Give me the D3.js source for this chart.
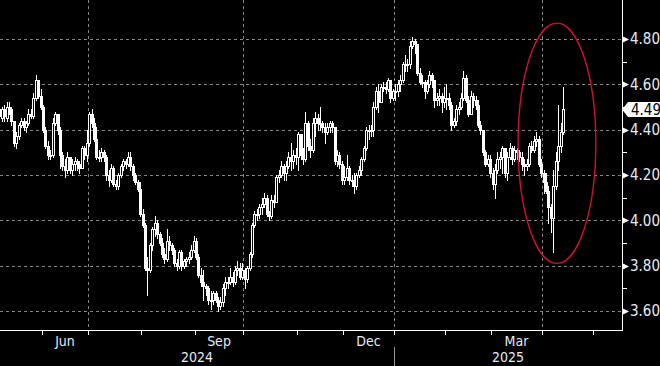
<!DOCTYPE html>
<html>
<head>
<meta charset="utf-8">
<script src="https://cdn.jsdelivr.net/npm/d3@7/dist/d3.min.js"></script>
<style>
  html, body { margin: 0; padding: 0; background: #000; }
  svg { display: block; }
  text { font-family: "Liberation Sans Narrow", "DejaVu Sans Condensed", "Arial Narrow", sans-serif; }
</style>
</head>
<body>
<svg width="660" height="366"></svg>
<script>
// US 10y yield, daily candles [open, high, low, close]
const may24 = [
  [4.49, 4.50, 4.44, 4.46], [4.45, 4.50, 4.44, 4.49], [4.49, 4.51, 4.44, 4.46], [4.45, 4.52, 4.44, 4.50],
  [4.50, 4.52, 4.47, 4.49], [4.49, 4.50, 4.42, 4.44], [4.44, 4.44, 4.33, 4.34], [4.34, 4.39, 4.32, 4.37],
  [4.37, 4.43, 4.36, 4.42], [4.42, 4.45, 4.41, 4.44], [4.44, 4.45, 4.40, 4.41], [4.41, 4.44, 4.39, 4.43],
  [4.43, 4.49, 4.42, 4.47], [4.47, 4.49, 4.45, 4.46], [4.46, 4.56, 4.45, 4.54], [4.54, 4.64, 4.53, 4.62],
  [4.62, 4.62, 4.54, 4.55], [4.55, 4.58, 4.49, 4.50]
];
const jun24 = [
  [4.50, 4.51, 4.39, 4.40], [4.40, 4.41, 4.32, 4.33], [4.33, 4.35, 4.27, 4.29], [4.29, 4.31, 4.27, 4.29],
  [4.29, 4.45, 4.28, 4.43], [4.43, 4.48, 4.42, 4.47], [4.47, 4.47, 4.38, 4.40], [4.40, 4.41, 4.23, 4.29],
  [4.29, 4.30, 4.22, 4.24], [4.24, 4.27, 4.19, 4.22], [4.22, 4.30, 4.21, 4.28], [4.28, 4.28, 4.21, 4.22],
  [4.22, 4.27, 4.20, 4.25], [4.25, 4.28, 4.22, 4.26], [4.26, 4.27, 4.22, 4.25], [4.25, 4.26, 4.21, 4.23],
  [4.23, 4.33, 4.23, 4.32], [4.32, 4.33, 4.27, 4.29], [4.29, 4.40, 4.26, 4.34]
];
const jul24 = [
  [4.34, 4.48, 4.33, 4.47], [4.47, 4.49, 4.41, 4.43], [4.43, 4.45, 4.35, 4.36], [4.36, 4.41, 4.27, 4.28],
  [4.28, 4.31, 4.26, 4.28], [4.28, 4.32, 4.26, 4.30], [4.30, 4.31, 4.26, 4.28], [4.28, 4.29, 4.18, 4.20],
  [4.20, 4.22, 4.15, 4.18], [4.18, 4.25, 4.17, 4.23], [4.23, 4.24, 4.15, 4.16], [4.16, 4.18, 4.14, 4.15],
  [4.15, 4.21, 4.14, 4.20], [4.20, 4.25, 4.19, 4.24], [4.24, 4.27, 4.22, 4.26], [4.26, 4.27, 4.23, 4.25],
  [4.25, 4.30, 4.24, 4.28], [4.28, 4.30, 4.22, 4.24], [4.24, 4.25, 4.18, 4.20], [4.20, 4.21, 4.16, 4.17],
  [4.17, 4.18, 4.13, 4.14], [4.14, 4.17, 4.02, 4.03]
];
const aug24 = [
  [4.03, 4.05, 3.97, 3.98], [3.98, 3.99, 3.78, 3.79], [3.79, 3.84, 3.67, 3.78], [3.78, 3.90, 3.77, 3.89],
  [3.89, 3.97, 3.87, 3.96], [3.96, 4.02, 3.93, 3.99], [3.99, 4.00, 3.92, 3.94], [3.94, 3.95, 3.89, 3.90],
  [3.90, 3.92, 3.84, 3.85], [3.85, 3.88, 3.81, 3.83], [3.83, 3.96, 3.82, 3.91], [3.91, 3.93, 3.87, 3.89],
  [3.89, 3.90, 3.85, 3.87], [3.87, 3.88, 3.80, 3.81], [3.81, 3.83, 3.78, 3.80], [3.80, 3.87, 3.79, 3.86],
  [3.86, 3.87, 3.78, 3.80], [3.80, 3.83, 3.79, 3.82], [3.82, 3.84, 3.80, 3.83], [3.83, 3.86, 3.81, 3.84],
  [3.84, 3.89, 3.83, 3.87], [3.87, 3.93, 3.86, 3.91]
];
const sep24 = [
  [3.91, 3.92, 3.83, 3.84], [3.84, 3.85, 3.75, 3.76], [3.76, 3.79, 3.71, 3.73], [3.73, 3.78, 3.65, 3.71],
  [3.71, 3.72, 3.67, 3.70], [3.70, 3.71, 3.63, 3.65], [3.65, 3.69, 3.61, 3.65], [3.65, 3.69, 3.63, 3.68],
  [3.68, 3.69, 3.64, 3.65], [3.65, 3.66, 3.60, 3.62], [3.62, 3.66, 3.61, 3.64], [3.64, 3.72, 3.62, 3.70],
  [3.70, 3.75, 3.67, 3.73], [3.73, 3.75, 3.70, 3.73], [3.73, 3.79, 3.72, 3.75], [3.75, 3.77, 3.71, 3.73],
  [3.73, 3.80, 3.72, 3.78], [3.78, 3.82, 3.76, 3.79], [3.79, 3.81, 3.74, 3.75], [3.75, 3.81, 3.74, 3.78]
];
const oct24 = [
  [3.78, 3.79, 3.70, 3.74], [3.74, 3.80, 3.73, 3.79], [3.79, 3.86, 3.78, 3.85], [3.85, 3.99, 3.84, 3.98],
  [3.98, 4.04, 3.97, 4.03], [4.03, 4.05, 4.00, 4.03], [4.03, 4.07, 4.01, 4.06], [4.06, 4.10, 4.03, 4.07],
  [4.07, 4.12, 4.06, 4.10], [4.10, 4.11, 4.02, 4.03], [4.03, 4.04, 4.00, 4.02], [4.02, 4.11, 4.01, 4.09],
  [4.09, 4.11, 4.06, 4.08], [4.08, 4.20, 4.08, 4.19], [4.19, 4.22, 4.17, 4.20], [4.20, 4.26, 4.19, 4.24],
  [4.24, 4.25, 4.18, 4.21], [4.21, 4.26, 4.18, 4.24], [4.24, 4.30, 4.23, 4.28], [4.28, 4.34, 4.22, 4.26],
  [4.26, 4.31, 4.23, 4.29], [4.29, 4.32, 4.25, 4.28]
];
const nov24 = [
  [4.28, 4.39, 4.22, 4.38], [4.38, 4.38, 4.27, 4.29], [4.29, 4.32, 4.25, 4.27], [4.27, 4.48, 4.26, 4.43],
  [4.43, 4.44, 4.31, 4.33], [4.33, 4.36, 4.28, 4.31], [4.31, 4.45, 4.30, 4.43], [4.43, 4.48, 4.37, 4.45],
  [4.45, 4.47, 4.40, 4.43], [4.43, 4.50, 4.40, 4.43], [4.43, 4.44, 4.39, 4.41], [4.41, 4.43, 4.34, 4.39],
  [4.39, 4.43, 4.38, 4.41], [4.41, 4.44, 4.39, 4.43], [4.43, 4.44, 4.39, 4.41], [4.41, 4.41, 4.25, 4.26],
  [4.26, 4.31, 4.24, 4.29], [4.29, 4.30, 4.23, 4.25], [4.25, 4.26, 4.16, 4.18]
];
const dec24 = [
  [4.18, 4.24, 4.16, 4.19], [4.19, 4.29, 4.18, 4.23], [4.23, 4.24, 4.16, 4.18], [4.18, 4.20, 4.15, 4.18],
  [4.18, 4.21, 4.12, 4.15], [4.15, 4.21, 4.14, 4.20], [4.20, 4.24, 4.19, 4.22], [4.22, 4.28, 4.20, 4.27],
  [4.27, 4.33, 4.26, 4.32], [4.32, 4.41, 4.31, 4.40], [4.40, 4.42, 4.36, 4.40], [4.40, 4.42, 4.37, 4.40],
  [4.40, 4.52, 4.37, 4.50], [4.50, 4.59, 4.49, 4.57], [4.57, 4.60, 4.48, 4.52], [4.52, 4.60, 4.52, 4.59],
  [4.59, 4.61, 4.57, 4.59], [4.59, 4.61, 4.56, 4.58], [4.58, 4.63, 4.57, 4.62], [4.62, 4.62, 4.52, 4.54],
  [4.54, 4.58, 4.53, 4.57]
];
const jan25 = [
  [4.57, 4.60, 4.53, 4.57], [4.57, 4.62, 4.55, 4.60], [4.60, 4.64, 4.57, 4.62], [4.62, 4.70, 4.61, 4.69],
  [4.69, 4.73, 4.66, 4.69], [4.69, 4.71, 4.66, 4.69], [4.69, 4.79, 4.67, 4.77], [4.77, 4.81, 4.76, 4.79],
  [4.79, 4.80, 4.74, 4.78], [4.78, 4.78, 4.64, 4.65], [4.65, 4.67, 4.60, 4.61], [4.61, 4.64, 4.59, 4.61],
  [4.61, 4.62, 4.54, 4.57], [4.57, 4.62, 4.56, 4.60], [4.60, 4.66, 4.59, 4.64], [4.64, 4.65, 4.59, 4.62],
  [4.62, 4.62, 4.50, 4.53], [4.53, 4.56, 4.51, 4.54], [4.54, 4.58, 4.51, 4.55], [4.55, 4.56, 4.48, 4.52],
  [4.52, 4.59, 4.50, 4.54]
];
const feb25 = [
  [4.54, 4.60, 4.49, 4.54], [4.54, 4.56, 4.49, 4.51], [4.51, 4.52, 4.40, 4.42], [4.42, 4.45, 4.41, 4.44],
  [4.44, 4.51, 4.42, 4.49], [4.49, 4.52, 4.47, 4.50], [4.50, 4.56, 4.49, 4.54], [4.54, 4.66, 4.53, 4.63],
  [4.63, 4.64, 4.52, 4.53], [4.53, 4.55, 4.46, 4.47], [4.47, 4.57, 4.47, 4.55], [4.55, 4.56, 4.50, 4.53],
  [4.53, 4.55, 4.49, 4.51], [4.51, 4.53, 4.41, 4.42], [4.42, 4.44, 4.38, 4.40], [4.40, 4.40, 4.29, 4.30],
  [4.30, 4.31, 4.24, 4.25], [4.25, 4.29, 4.24, 4.27], [4.27, 4.29, 4.19, 4.21]
];
const mar25 = [
  [4.21, 4.23, 4.14, 4.16], [4.16, 4.25, 4.10, 4.22], [4.22, 4.30, 4.21, 4.27], [4.27, 4.30, 4.23, 4.28],
  [4.28, 4.33, 4.21, 4.32], [4.32, 4.32, 4.19, 4.21], [4.21, 4.30, 4.18, 4.28], [4.28, 4.34, 4.27, 4.32],
  [4.32, 4.33, 4.25, 4.27], [4.27, 4.33, 4.26, 4.31], [4.31, 4.32, 4.27, 4.30], [4.30, 4.31, 4.26, 4.28],
  [4.28, 4.30, 4.22, 4.25], [4.25, 4.27, 4.20, 4.24], [4.24, 4.27, 4.22, 4.25], [4.25, 4.34, 4.24, 4.33],
  [4.33, 4.35, 4.30, 4.31], [4.31, 4.37, 4.30, 4.35], [4.35, 4.39, 4.33, 4.36], [4.36, 4.37, 4.24, 4.25],
  [4.25, 4.27, 4.19, 4.21]
];
const apr25 = [
  [4.21, 4.22, 4.12, 4.17], [4.17, 4.21, 4.12, 4.13], [4.13, 4.15, 3.99, 4.06], [4.06, 4.07, 3.95, 4.01],
  [4.01, 4.22, 3.86, 4.15], [4.15, 4.30, 4.14, 4.26], [4.26, 4.51, 4.22, 4.33], [4.33, 4.43, 4.30, 4.39],
  [4.39, 4.59, 4.38, 4.49]
];

const firstDay = "2024-05-07";
const holidays = [
  "2024-05-27", "2024-06-19", "2024-07-04", "2024-09-02", "2024-10-14", "2024-11-11",
  "2024-11-28", "2024-12-25", "2025-01-01", "2025-01-20", "2025-02-17", "2025-04-18"
];
const axisDays = 258;

const yTicks = [3.60, 3.80, 4.00, 4.20, 4.40, 4.60, 4.80];
const yMinor = [3.70, 3.90, 4.10, 4.30, 4.50, 4.70];
const monthLabels = { 5: "Jun", 8: "Sep", 11: "Dec", 2: "Mar" };
const lastValue = 4.49;

// highlighted zone
const zoneDays = ["2025-03-18", "2025-05-02"];
const zoneValues = [3.81, 4.87];

const width = 660;
const height = 366;
const plotW = 622;
const plotH = 330;

const fmtDay = d3.utcFormat("%Y-%m-%d");
const parseDay = d3.utcParse("%Y-%m-%d");

// trading days
const days = [];
let t = parseDay(firstDay);
while (days.length < axisDays) {
  const wd = t.getUTCDay();
  const key = fmtDay(t);
  if (wd !== 0 && wd !== 6 && !holidays.includes(key)) days.push(key);
  t = d3.utcDay.offset(t, 1);
}

const ohlc = [may24, jun24, jul24, aug24, sep24, oct24, nov24, dec24, jan25, feb25, mar25, apr25].flat();
const candles = ohlc.map((d, i) => ({ day: days[i], o: d[0], h: d[1], l: d[2], c: d[3] }));

const svg = d3.select("svg");

svg.append("rect")
  .attr("width", width)
  .attr("height", height)
  .attr("fill", "#000");

const x = d3.scaleBand()
  .domain(days)
  .range([-2, 625])
  .paddingInner(0);

const y = d3.scaleLinear()
  .domain([3.60, 4.80])
  .range([311, 39]);

const step = x.step();
const cx = d => Math.round(x(d) + step / 2);

// month boundaries
const bounds = [];
days.forEach((d, i) => {
  if (i === 0) return;
  const m = parseDay(d).getUTCMonth();
  if (m !== parseDay(days[i - 1]).getUTCMonth()) {
    bounds.push({ day: d, month: m, year: parseDay(d).getUTCFullYear(), x: Math.round(x(d)) });
  }
});

// GRID

const grid = svg.append("g")
  .attr("stroke", "#858585")
  .attr("stroke-dasharray", "3,3")
  .attr("shape-rendering", "crispEdges");

grid.selectAll(".hgrid")
  .data(yTicks)
  .join("line")
  .attr("x1", 0)
  .attr("x2", plotW)
  .attr("y1", d => Math.round(y(d)) + 0.5)
  .attr("y2", d => Math.round(y(d)) + 0.5);

grid.selectAll(".vgrid")
  .data(bounds.filter(b => b.month % 3 === 0 && b.x < plotW))
  .join("line")
  .attr("x1", d => d.x + 0.5)
  .attr("x2", d => d.x + 0.5)
  .attr("y1", 0)
  .attr("y2", plotH);

// CANDLES

const plot = svg.append("g")
  .attr("shape-rendering", "crispEdges");

plot.selectAll(".wick")
  .data(candles)
  .join("line")
  .attr("x1", d => cx(d.day) + 0.5)
  .attr("x2", d => cx(d.day) + 0.5)
  .attr("y1", d => Math.round(y(d.h)))
  .attr("y2", d => Math.round(y(d.l)) + 1)
  .attr("stroke", "#fff")
  .attr("stroke-width", 1);

plot.selectAll(".body")
  .data(candles)
  .join("rect")
  .attr("x", d => cx(d.day) - 0.5)
  .attr("width", 2)
  .attr("y", d => Math.round(y(Math.max(d.o, d.c))) + 0.5)
  .attr("height", d => Math.max(1, Math.round(y(Math.min(d.o, d.c))) - Math.round(y(Math.max(d.o, d.c)))))
  .attr("fill", d => d.c >= d.o ? "#000" : "#fff")
  .attr("stroke", "#fff")
  .attr("stroke-width", 1);

// ANNOTATION

const zx0 = x(zoneDays[0]);
const zx1 = x(zoneDays[1]);
const zy0 = y(zoneValues[1]);
const zy1 = y(zoneValues[0]);

svg.append("ellipse")
  .attr("cx", (zx0 + zx1) / 2)
  .attr("cy", (zy0 + zy1) / 2)
  .attr("rx", (zx1 - zx0) / 2)
  .attr("ry", (zy1 - zy0) / 2)
  .attr("fill", "none")
  .attr("stroke", "#cc1230")
  .attr("stroke-width", 1.4);

// AXES

const axes = svg.append("g")
  .attr("shape-rendering", "crispEdges");

axes.append("line")
  .attr("x1", 0)
  .attr("x2", plotW + 1)
  .attr("y1", plotH + 0.5)
  .attr("y2", plotH + 0.5)
  .attr("stroke", "#fff");

axes.append("line")
  .attr("x1", plotW + 0.5)
  .attr("x2", plotW + 0.5)
  .attr("y1", 0)
  .attr("y2", plotH + 1)
  .attr("stroke", "#fff");

axes.selectAll(".xtick")
  .data(bounds.filter(b => b.x < plotW))
  .join("line")
  .attr("x1", d => d.x + 0.5)
  .attr("x2", d => d.x + 0.5)
  .attr("y1", plotH)
  .attr("y2", plotH + 5)
  .attr("stroke", "#fff");

axes.selectAll(".ymin")
  .data(yMinor)
  .join("line")
  .attr("x1", plotW)
  .attr("x2", plotW + 5)
  .attr("y1", d => Math.round(y(d)) + 0.5)
  .attr("y2", d => Math.round(y(d)) + 0.5)
  .attr("stroke", "#fff");

svg.selectAll(".ymark")
  .data(yTicks)
  .join("path")
  .attr("d", d => {
    const yy = Math.round(y(d)) + 0.5;
    return `M${plotW},${yy - 3.5}L${plotW + 7},${yy}L${plotW},${yy + 3.5}Z`;
  })
  .attr("fill", "#fff");

svg.selectAll(".ylabel")
  .data(yTicks)
  .join("text")
  .attr("x", plotW + 8)
  .attr("y", d => y(d))
  .attr("dy", "0.36em")
  .attr("fill", "#e4eaf2")
  .attr("font-size", 15)
  .text(d => d3.format(".2f")(d));

// month labels centred within month
bounds.forEach((b, i) => {
  const next = bounds[i + 1];
  if (!(b.month in monthLabels) || !next) return;
  svg.append("text")
    .attr("x", (b.x + next.x) / 2)
    .attr("y", 341)
    .attr("dy", "0.36em")
    .attr("text-anchor", "middle")
    .attr("fill", "#e4eaf2")
    .attr("font-size", 14)
    .text(monthLabels[b.month]);
});

// year labels
const yearStart = bounds.find(b => b.month === 0);
const years = [
  { label: "2024", x0: 0, x1: yearStart.x },
  { label: "2025", x0: yearStart.x, x1: plotW }
];

svg.selectAll(".year")
  .data(years)
  .join("text")
  .attr("x", d => (d.x0 + d.x1) / 2)
  .attr("y", 357)
  .attr("dy", "0.36em")
  .attr("text-anchor", "middle")
  .attr("fill", "#e4eaf2")
  .attr("font-size", 14)
  .text(d => d.label);

svg.append("line")
  .attr("x1", yearStart.x + 0.5)
  .attr("x2", yearStart.x + 0.5)
  .attr("y1", 347)
  .attr("y2", 366)
  .attr("stroke", "#9a9a9a")
  .attr("shape-rendering", "crispEdges");

// LAST VALUE TAG

const ly = Math.round(y(lastValue)) + 0.5;

svg.append("path")
  .attr("d", `M${plotW},${ly}L${plotW + 6},${ly - 7.5}L${width},${ly - 7.5}L${width},${ly + 7.5}L${plotW + 6},${ly + 7.5}Z`)
  .attr("fill", "#fff");

svg.append("text")
  .attr("x", plotW + 9)
  .attr("y", ly)
  .attr("dy", "0.36em")
  .attr("fill", "#000")
  .attr("font-size", 15)
  .text(d3.format(".2f")(lastValue));
</script>
</body>
</html>
